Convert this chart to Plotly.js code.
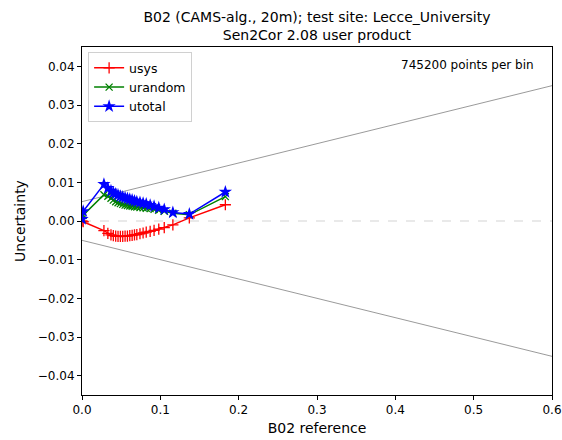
<!DOCTYPE html>
<html><head><meta charset="utf-8">
<script src="https://cdn.plot.ly/plotly-3.0.1.min.js"></script>
<style>html,body{margin:0;padding:0;background:#fff}#plot{width:562px;height:440px}</style>
</head><body><div id="plot"></div>
<script>
const xRef = [0.0, 0.0015, 0.028, 0.033, 0.037, 0.040, 0.043, 0.046, 0.049, 0.052, 0.055, 0.058, 0.061, 0.064, 0.067, 0.070, 0.074, 0.078, 0.082, 0.087, 0.092, 0.098, 0.105, 0.116, 0.137, 0.183];
const usys = [0.0, -0.0002, -0.0025, -0.0032, -0.0036, -0.0038, -0.0039, -0.0040, -0.0040, -0.0040, -0.0039, -0.0039, -0.0038, -0.0037, -0.0036, -0.0035, -0.0033, -0.0031, -0.0029, -0.0027, -0.0024, -0.0021, -0.0017, -0.0010, 0.0008, 0.0042];
const urandom = [0.0005, 0.0015, 0.0068, 0.0064, 0.0059, 0.0054, 0.0050, 0.0047, 0.0045, 0.0043, 0.0041, 0.0040, 0.0039, 0.0038, 0.0037, 0.0036, 0.0035, 0.0034, 0.0033, 0.0032, 0.0030, 0.0028, 0.0025, 0.0020, 0.0016, 0.0063];
const utotal = [0.0005, 0.0025, 0.0095, 0.0085, 0.0078, 0.0073, 0.0070, 0.0067, 0.0064, 0.0062, 0.0060, 0.0058, 0.0056, 0.0054, 0.0052, 0.0050, 0.0048, 0.0046, 0.0044, 0.0041, 0.0038, 0.0034, 0.0030, 0.0022, 0.0018, 0.0075];
const envX = [0.0, 0.6];
const envUpper = [0.005, 0.035];
const envLower = [-0.005, -0.035];
const zeroY = [0.0, 0.0];
const binLabel = "745200 points per bin";

const traces = [
  {x: envX, y: envUpper, mode: 'lines', line: {color: 'grey', width: 0.8}, showlegend: false, hoverinfo: 'skip'},
  {x: envX, y: envLower, mode: 'lines', line: {color: 'grey', width: 0.8}, showlegend: false, hoverinfo: 'skip'},
  {x: envX, y: zeroY, mode: 'lines', line: {color: '#c8c8c8', width: 0.8, dash: 'dash'}, showlegend: false, hoverinfo: 'skip'},
  {x: xRef, y: usys, name: 'usys', mode: 'lines+markers', line: {color: 'red', width: 1.5},
   marker: {symbol: 'cross-thin-open', size: 8, line: {color: 'red', width: 1.3}}},
  {x: xRef, y: urandom, name: 'urandom', mode: 'lines+markers', line: {color: 'green', width: 1.5},
   marker: {symbol: 'x-thin-open', size: 7, line: {color: 'green', width: 1.3}}},
  {x: xRef, y: utotal, name: 'utotal', mode: 'lines+markers', line: {color: 'blue', width: 1.5},
   marker: {symbol: 'star', size: 10, color: 'blue', line: {width: 0}}}
];

const layout = {
  width: 562, height: 440,
  margin: {l: 82, r: 10, t: 47, b: 45},
  paper_bgcolor: '#fff', plot_bgcolor: '#fff',
  font: {family: 'DejaVu Sans', size: 12, color: '#000'},
  title: {text: 'B02 (CAMS-alg., 20m); test site: Lecce_University<br>Sen2Cor 2.08 user product',
          font: {size: 14}, x: 0.564, xanchor: 'center', yref: 'container', y: 0.95, yanchor: 'top'},
  xaxis: {range: [0, 0.6], tickvals: [0, 0.1, 0.2, 0.3, 0.4, 0.5, 0.6], tickformat: '.1f',
          showgrid: false, zeroline: false, showline: true, linecolor: '#000', linewidth: 1, mirror: true,
          ticks: 'outside', ticklen: 4, tickcolor: '#000',
          title: {text: 'B02 reference', font: {size: 14}, standoff: 6}},
  yaxis: {range: [-0.045, 0.045], tickvals: [-0.04, -0.03, -0.02, -0.01, 0, 0.01, 0.02, 0.03, 0.04], tickformat: '.2f',
          showgrid: false, zeroline: false, showline: true, linecolor: '#000', linewidth: 1, mirror: true,
          ticks: 'outside', ticklen: 4, tickcolor: '#000',
          title: {text: 'Uncertainty', font: {size: 14}, standoff: 8}},
  legend: {x: 0.013, y: 0.985, xanchor: 'left', yanchor: 'top', bgcolor: 'rgba(255,255,255,0.8)',
           bordercolor: '#d0d0d0', borderwidth: 1, font: {size: 12.5}, tracegroupgap: 0},
  annotations: [{text: binLabel, xref: 'paper', yref: 'paper', x: 0.965, y: 0.975, xanchor: 'right', yanchor: 'top',
                 showarrow: false, font: {size: 12}}],
  showlegend: true
};
Plotly.newPlot('plot', traces, layout, {displayModeBar: false, staticPlot: true});
</script></body></html>
